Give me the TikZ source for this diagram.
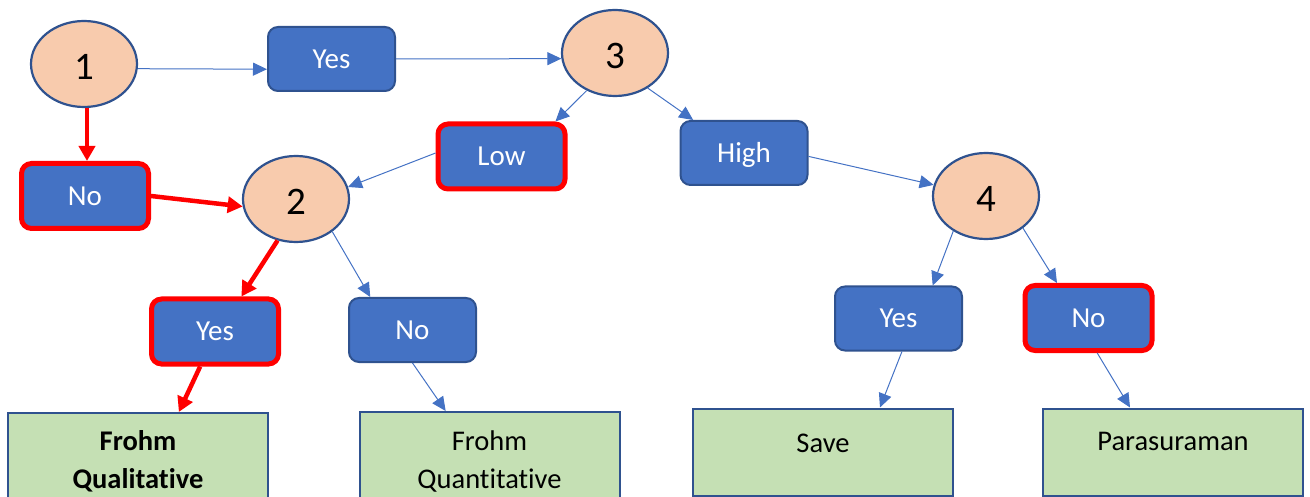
\documentclass[tikz,border=0pt]{standalone}
\usepackage{fontspec}
\setmainfont[Ligatures=NoCommon]{Carlito}
\usetikzlibrary{arrows.meta,shapes.geometric}
\definecolor{peach}{HTML}{F8CBAD}
\definecolor{navy}{HTML}{2F528F}
\definecolor{accent}{HTML}{4472C4}
\definecolor{leafgreen}{HTML}{C5E0B4}
\definecolor{hot}{HTML}{FF0000}
\tikzset{
  decision/.style={ellipse, draw=navy, line width=2.2pt, fill=peach,
    minimum width=106, minimum height=86, inner sep=0pt,
    font=\fontsize{39}{44}\selectfont, text height=32pt, text depth=0pt},
  choice/.style={rectangle, rounded corners=10pt, draw=navy, line width=2pt, fill=accent,
    minimum width=127, minimum height=64, inner sep=0pt, text=white,
    font=\fontsize{29}{32}\selectfont, text height=18.5pt, text depth=0pt},
  picked/.style={choice, draw=hot, line width=5pt, minimum height=65},
  leaf/.style={rectangle, draw=navy, line width=2pt, fill=leafgreen,
    minimum width=260, minimum height=87, inner sep=0pt},
  leaftext/.style={align=center, inner sep=0pt, font=\fontsize{28.5}{38}\selectfont},
  link/.style={draw=accent, line width=1pt, -{Triangle[length=14pt,width=13pt]}},
  route/.style={draw=hot, line width=4.5pt, -{Triangle[length=15pt,width=16pt]}},
}
\begin{document}
\begin{tikzpicture}[x=1pt, y=-1pt]
  \useasboundingbox (0,0) rectangle (1310,497);
  \clip (0,0) rectangle (1310,497);

  % question nodes
  \node[decision] (q1) at (84,64)  {1};
  \node[decision] (q3) at (615,53) {3};
  \node[decision] (q2) at (296,199) {2};
  \node[decision] (q4) at (986,196) {4};

  % answer boxes
  \node[choice] (yesA)  at (331.5,59)  {Yes};
  \node[picked] (noA)   at (85,196)    {No};
  \node[picked] (low)   at (501.5,156.5) {Low};
  \node[choice] (high)  at (744,153)   {High};
  \node[picked] (yesB)  at (215,331.5) {Yes};
  \node[choice] (noB)   at (412.5,330) {No};
  \node[choice] (yesC)  at (898.5,318.5) {Yes};
  \node[picked] (noC)   at (1088.5,318) {No};

  % outcome boxes
  \node[leaf, minimum height=92] (qual)  at (138,459)   {};
  \node[leaf, minimum height=92] (quant) at (489.5,458) {};
  \node[leaf] (save) at (823,452)  {};
  \node[leaf] (para) at (1173,452) {};
  \node[leaftext] (qualtxt)  at (138,461.5) {\textbf{Frohm}\\\textbf{Qualitative}};
  \node[leaftext] (quanttxt) at (489.5,461) {Frohm\\Quantitative};
  \node[leaftext] (savetxt)  at (823,443)  {Save};
  \node[leaftext] (paratxt)  at (1173,441) {Parasuraman};

  % connectors
  \draw[link] (q1.-5) -- (yesA.189);
  \draw[link] (yesA.east) -- (q3.186);
  \draw[link] (q3.233) -- (low.33);
  \draw[link] (q3.-47) -- (high.147);
  \draw[link] (low.177) -- (q2.13);
  \draw[link] (high.-3) -- (q4.168);
  \draw[link] (q2.-42) -- (noB.142);
  \draw[link] (noB.south) -- (quant.133);
  \draw[link] (q4.227) -- (yesC.44);
  \draw[link] (q4.-41) -- (noC.132);
  \draw[link] (yesC.-84) -- (save.38);
  \draw[link] (noC.-76) -- (para.134);

  % highlighted route
  \draw[route] ([xshift=3pt]q1.south) -- ([xshift=2pt]noA.north);
  \draw[route] (noA.east) -- (q2.188);
  \draw[route] (q2.246) -- (yesB.53);
  \draw[route] (yesB.247) -- (qual.49);
\end{tikzpicture}
\end{document}
